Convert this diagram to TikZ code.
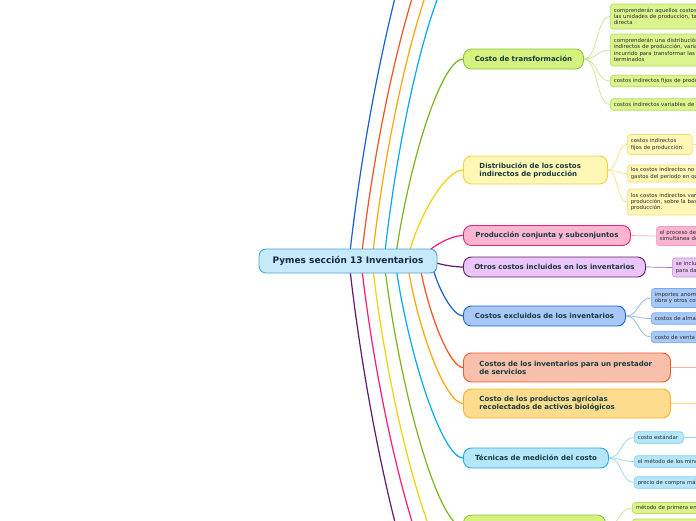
\documentclass[tikz,border=0pt]{standalone}
\usepackage{fontspec}
\setmainfont{DejaVu Sans}
\usetikzlibrary{calc,backgrounds}
\definecolor{maintext}{HTML}{143B3E}
\definecolor{roottext}{HTML}{172A45}
\definecolor{leaftext}{HTML}{2B2B2B}
\definecolor{rootfill}{HTML}{C7EAFA}
\definecolor{rootdraw}{HTML}{4BA3DC}
\definecolor{cblue}{HTML}{1A5FD0}
\definecolor{cred}{HTML}{F4511E}
\definecolor{corange}{HTML}{FFA500}
\definecolor{ccyan}{HTML}{03A9F4}
\definecolor{cgreen}{HTML}{7CB518}
\definecolor{cyellow}{HTML}{F2D200}
\definecolor{cpink}{HTML}{FF1A75}
\definecolor{cpurple}{HTML}{5B1A73}
\definecolor{gfill}{HTML}{D6F27E}\definecolor{gdraw}{HTML}{8CC43C}
\definecolor{glfill}{HTML}{DAF58E}\definecolor{gldraw}{HTML}{B4DD55}\definecolor{glline}{HTML}{C6E58F}
\definecolor{yfill}{HTML}{FFF7B5}\definecolor{ydraw}{HTML}{F2D13C}
\definecolor{yldraw}{HTML}{F5DC6E}\definecolor{ylline}{HTML}{F7E38A}
\definecolor{pfill}{HTML}{FBB5D0}\definecolor{pdraw}{HTML}{E8256E}
\definecolor{pldraw}{HTML}{F29BBD}\definecolor{plline}{HTML}{F9A8C8}
\definecolor{ufill}{HTML}{EBC4F8}\definecolor{udraw}{HTML}{5B2069}
\definecolor{uldraw}{HTML}{C592D6}\definecolor{ulline}{HTML}{A06AB4}
\definecolor{bfill}{HTML}{A8C9F8}\definecolor{bdraw}{HTML}{1B63D4}
\definecolor{bldraw}{HTML}{7AA8EA}\definecolor{blline}{HTML}{8BB4EE}
\definecolor{rfill}{HTML}{F8BFAA}\definecolor{rdraw}{HTML}{F05A2A}\definecolor{rlline}{HTML}{F8B4A0}
\definecolor{ofill}{HTML}{FEDC8E}\definecolor{odraw}{HTML}{FBB024}\definecolor{olline}{HTML}{FFD27A}
\definecolor{cfill}{HTML}{B6E6FB}\definecolor{cdraw}{HTML}{25AEEC}
\definecolor{cldraw}{HTML}{7DCFF2}\definecolor{clline}{HTML}{8FD8F6}
\tikzset{
  mainnode/.style={rectangle, rounded corners=8pt, line width=0.9pt, text=maintext,
    font=\fontsize{7}{8}\selectfont\bfseries, anchor=west, inner xsep=0pt, inner ysep=0pt, align=center},
  mainwide/.style={mainnode, inner xsep=16pt, align=left},
  rootnode/.style={rectangle, rounded corners=7pt, line width=0.9pt, text=roottext,
    fill=rootfill, draw=rootdraw, font=\fontsize{9}{10}\selectfont\bfseries, inner sep=0pt},
  leafnode/.style={rectangle, rounded corners=3pt, line width=0.6pt, text=leaftext,
    font=\fontsize{5.4}{6.3}\selectfont, anchor=west, inner xsep=3.5pt, inner ysep=2pt, align=left},
  mainline/.style={line width=1.2pt},
  leafline/.style={line width=0.7pt},
}
\begin{document}
\begin{tikzpicture}[x=1pt,y=-1pt]
\useasboundingbox (0,0) rectangle (696,520);
\clip (0,0) rectangle (696,520);

% ---------- root ----------
\node[rootnode, minimum width=178pt, minimum height=24pt] (root) at (348,261) {Pymes sección 13 Inventarios};

% start points of the branches (hidden under the root)
\coordinate (s1) at (349,261);
\coordinate (s2) at (361,261);
\coordinate (s3) at (372,261);
\coordinate (s4) at (384,261);
\coordinate (s5) at (395,261);
\coordinate (s6) at (407,261);
\coordinate (s7) at (419,261);
\coordinate (s8) at (431,261);
% off-canvas ends
\coordinate (t1) at (463,-160);
\coordinate (t2) at (463,-100);
\coordinate (t3) at (463,-70);
\coordinate (t4) at (463,-40);
\coordinate (b1) at (463,580);
\coordinate (b2) at (463,620);
\coordinate (b3) at (463,680);

% ---------- main nodes ----------
\node[mainnode, fill=gfill, draw=gdraw, minimum width=120pt, minimum height=20pt] (n1) at (463,59) {Costo de transformación};
\node[mainwide, fill=yfill, draw=ydraw, text width=112pt, minimum height=28pt] (n2) at (463,170) {Distribución de los costos\\indirectos de producción};
\node[mainnode, fill=pfill, draw=pdraw, minimum width=167pt, minimum height=20pt] (n3) at (463,235.5) {Producción conjunta y subconjuntos};
\node[mainnode, fill=ufill, draw=udraw, minimum width=182pt, minimum height=20pt] (n4) at (463,267) {Otros costos incluidos en los inventarios};
\node[mainnode, fill=bfill, draw=bdraw, minimum width=162pt, minimum height=20pt] (n5) at (463,316) {Costos excluidos de los inventarios};
\node[mainwide, fill=rfill, draw=rdraw, text width=175pt, minimum height=29pt] (n6) at (463,367.5) {Costos de los inventarios para un prestador\\de servicios};
\node[mainwide, fill=ofill, draw=odraw, text width=175pt, minimum height=29pt] (n7) at (463,403.5) {Costo de los productos agrícolas\\recolectados de activos biológicos};
\node[mainnode, fill=cfill, draw=cdraw, minimum width=145pt, minimum height=20pt] (n8) at (463,458) {Técnicas de medición del costo};
\node[mainnode, fill=gfill, draw=gdraw, minimum width=142pt, minimum height=24pt] (n9) at (463,527) {};

% off-canvas ends of leaf lines
\coordinate (o2) at (730,144.5);
\coordinate (o6) at (730,367.5);
\coordinate (o7) at (730,403.5);
\coordinate (o8) at (730,437.5);

% ---------- leaves ----------
\node[leafnode, fill=glfill, draw=gldraw, text width=260pt, minimum height=25pt] (l1a) at (610,16.5) {comprenderán aquellos costos directamente relacionados con\\las unidades de producción, tales como la mano de obra\\directa};
\node[leafnode, fill=glfill, draw=gldraw, text width=260pt, minimum height=32pt] (l1b) at (610,50) {comprenderán una distribución sistemática de los costos\\indirectos de producción, variables o fijos, en los que se haya\\incurrido para transformar las materias primas en productos\\terminados};
\node[leafnode, fill=glfill, draw=gldraw, text width=260pt, minimum height=11.5pt] (l1c) at (610,81) {costos indirectos fijos de producción};
\node[leafnode, fill=glfill, draw=gldraw, text width=260pt, minimum height=11.5pt] (l1d) at (610,104.5) {costos indirectos variables de producción};

\node[leafnode, fill=yfill, draw=yldraw, text width=58pt, minimum height=20pt] (l2a) at (627,144.5) {costos indirectos\\fijos de producción:};
\node[leafnode, fill=yfill, draw=yldraw, text width=260pt, minimum height=17pt] (l2b) at (627,173.5) {los costos indirectos no distribuidos se reconocerán como\\gastos del periodo en que han sido incurridos};
\node[leafnode, fill=yfill, draw=yldraw, text width=260pt, minimum height=26pt] (l2c) at (627,202) {los costos indirectos variables se distribuirán a cada unidad de\\producción, sobre la base del uso real de los medios de\\producción.};

\node[leafnode, fill=pfill, draw=pldraw, text width=260pt, minimum height=19pt] (l3) at (656,236) {el proceso de producción puede dar lugar a la producción\\simultánea de más de un producto};
\node[leafnode, fill=ufill, draw=uldraw, text width=260pt, minimum height=19pt] (l4) at (672,267.5) {se incluirán otros costos en el costo de los inventarios\\para darles su condición y ubicación actuales};

\node[leafnode, fill=bfill, draw=bldraw, text width=260pt, minimum height=19pt] (l5a) at (651,298) {importes anormales de desperdicio de materiales, mano de\\obra y otros costos de producción};
\node[leafnode, fill=bfill, draw=bldraw, text width=260pt, minimum height=11.5pt] (l5b) at (651,318.5) {costos de almacenamiento};
\node[leafnode, fill=bfill, draw=bldraw, text width=260pt, minimum height=11.5pt] (l5c) at (651,337) {costo de venta};

\node[leafnode, fill=cfill, draw=cldraw, text width=42pt, minimum height=11.5pt] (l8a) at (634,437.5) {costo estándar};
\node[leafnode, fill=cfill, draw=cldraw, text width=260pt, minimum height=11.5pt] (l8b) at (634,461.5) {el método de los minoristas};
\node[leafnode, fill=cfill, draw=cldraw, text width=260pt, minimum height=11.5pt] (l8c) at (634,482.5) {precio de compra más reciente};

\node[leafnode, fill=glfill, draw=gldraw, text width=260pt, minimum height=11pt] (l9a) at (632,508) {método de primera entrada primera salida (FIFO)};
\node[leafnode, fill=glfill, draw=gldraw, text width=260pt, minimum height=12pt] (l9b) at (632,525) {};

% ---------- connectors (under the nodes) ----------
\begin{scope}[on background layer]
\fill[white] (0,0) rectangle (696,520);
% main branches
\draw[mainline, cblue]   (s1) .. controls (372,50)  and (429,-160) .. (t1);
\draw[mainline, cred]    (s2) .. controls (381,80)  and (432,-100) .. (t2);
\draw[mainline, corange] (s3) .. controls (390,95)  and (436,-70)  .. (t3);
\draw[mainline, ccyan]   (s4) .. controls (400,110) and (439,-40)  .. (t4);
\draw[mainline, cgreen]  (s5) .. controls (409,160) and (442,59)   .. (n1.west);
\draw[mainline, cyellow] (s6) .. controls (418,215) and (446,170)  .. (n2.west);
\draw[mainline, cpink]   (s7) .. controls (428,248) and (450,235.5).. (n3.west);
\draw[mainline, cpurple] (s8) .. controls (437,264) and (453,267)  .. (n4.west);
\draw[mainline, cblue]   (s8) .. controls (437,288) and (453,316)  .. (n5.west);
\draw[mainline, cred]    (s7) .. controls (428,314) and (450,367.5).. (n6.west);
\draw[mainline, corange] (s6) .. controls (418,332) and (446,403.5).. (n7.west);
\draw[mainline, ccyan]   (s5) .. controls (409,359) and (443,458)  .. (n8.west);
\draw[mainline, cgreen]  (s4) .. controls (400,394) and (439,527)  .. (n9.west);
\draw[mainline, cyellow] (s3) .. controls (390,420) and (436,580)  .. (b1);
\draw[mainline, cpink]   (s2) .. controls (381,440) and (432,620)  .. (b2);
\draw[mainline, cpurple] (s1) .. controls (372,470) and (429,680)  .. (b3);
% leaf connectors
\foreach \l in {l1a,l1b,l1c,l1d}
  \draw[leafline, glline] (n1.east) .. controls +(14,0) and +(-14,0) .. (\l.west);
\foreach \l in {l2a,l2b,l2c}
  \draw[leafline, ylline] (n2.east) .. controls +(10,0) and +(-10,0) .. (\l.west);
\draw[leafline, ylline] (l2a.east) -- (o2);
\draw[leafline, plline] (n3.east) .. controls +(13,0) and +(-13,0) .. (l3.west);
\draw[leafline, ulline] (n4.east) .. controls +(13,0) and +(-13,0) .. (l4.west);
\foreach \l in {l5a,l5b,l5c}
  \draw[leafline, blline] (n5.east) .. controls +(13,0) and +(-13,0) .. (\l.west);
\draw[leafline, rlline] (n6.east) -- (o6);
\draw[leafline, olline] (n7.east) -- (o7);
\foreach \l in {l8a,l8b,l8c}
  \draw[leafline, clline] (n8.east) .. controls +(13,0) and +(-13,0) .. (\l.west);
\draw[leafline, clline] (l8a.east) -- (o8);
\foreach \l in {l9a,l9b}
  \draw[leafline, glline] (n9.east) .. controls +(13,0) and +(-13,0) .. (\l.west);
\end{scope}

\end{tikzpicture}
\end{document}
